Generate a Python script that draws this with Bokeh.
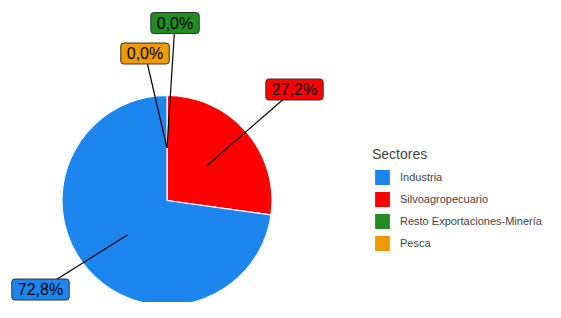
import numpy as np
from bokeh.plotting import figure
from bokeh.models import ColumnDataSource, Legend, LegendItem, Range1d
from bokeh.core.properties import value
from bokeh.embed import file_html
from bokeh.resources import INLINE

# ---- data (stack order, clockwise from 12 o'clock) ----
sectores = ["Pesca", "Resto Exportaciones-Minería", "Silvoagropecuario", "Industria"]
porcentajes = [0.0, 0.0, 27.2, 72.8]
colores = ["#EE9A00", "#228B22", "#FF0000", "#1C86EE"]
legend_order = ["Industria", "Silvoagropecuario", "Resto Exportaciones-Minería", "Pesca"]
legend_title = "Sectores"

# ---- layout constants (reference pixel space) ----
CX, CY, R = 166.5, 200.0, 105.0
label_px = [(144.5, 53.0), (174.5, 22.5), (294.0, 89.0), (40.0, 289.0)]
W, H = 545, 302

def to_data(px, py):
    return (px - CX) / R, (CY - py) / R

vals = np.array(porcentajes)
frac = vals / vals.sum()
cum_end = np.cumsum(frac)
cum_start = cum_end - frac
theta_start = cum_start * 2 * np.pi
theta_end = cum_end * 2 * np.pi
theta_mid = (theta_start + theta_end) / 2

src = ColumnDataSource(dict(
    sector=sectores,
    start=np.pi / 2 - theta_start,
    end=np.pi / 2 - theta_end,
    color=colores,
))

x0, y0 = to_data(0, 0)
x1, y1 = to_data(W, H)

p = figure(width=W, height=H, output_backend="svg", toolbar_location=None,
           x_range=Range1d(x0, x1), y_range=Range1d(y1, y0),
           min_border=0, background_fill_color="white",
           border_fill_color="white", outline_line_color=None)
p.axis.visible = False
p.grid.visible = False

wr = p.wedge(x=0, y=0, radius=1.0, start_angle="start", end_angle="end",
             direction="clock", fill_color="color", line_color="white",
             line_width=1.2, source=src)

# leader segments
sx = 0.5 * np.sin(theta_mid)
sy = 0.5 * np.cos(theta_mid)
lx = [to_data(*q)[0] for q in label_px]
ly = [to_data(*q)[1] for q in label_px]
p.segment(x0=sx, y0=sy, x1=lx, y1=ly, line_color="black", line_width=1.2)

labels = [f"{v:.1f}%".replace(".", ",") for v in porcentajes]
lsrc = ColumnDataSource(dict(x=lx, y=ly, text=labels, color=colores))
p.text(x="x", y="y", text="text", source=lsrc,
       text_font=value("Liberation Sans"), text_font_size="16px",
       text_align="center", text_baseline="middle", text_color="black",
       background_fill_color="color", border_line_color="#333333",
       border_line_width=1, border_radius=3, padding=(6, 2))

items = [LegendItem(label=name, renderers=[wr], index=sectores.index(name))
         for name in legend_order]
legend = Legend(items=items, title=legend_title, location=(372, 49),
                title_text_font="Liberation Sans",
                title_text_font_size="14px", title_text_font_style="normal",
                title_standoff=5,
                label_text_font="Liberation Sans",
                label_text_font_size="11px",
                glyph_width=20, glyph_height=20, label_height=20,
                label_standoff=8, spacing=2, padding=0, margin=0,
                background_fill_alpha=0, border_line_color=None)
p.add_layout(legend)

open("out.html", "w").write(file_html(p, INLINE))
